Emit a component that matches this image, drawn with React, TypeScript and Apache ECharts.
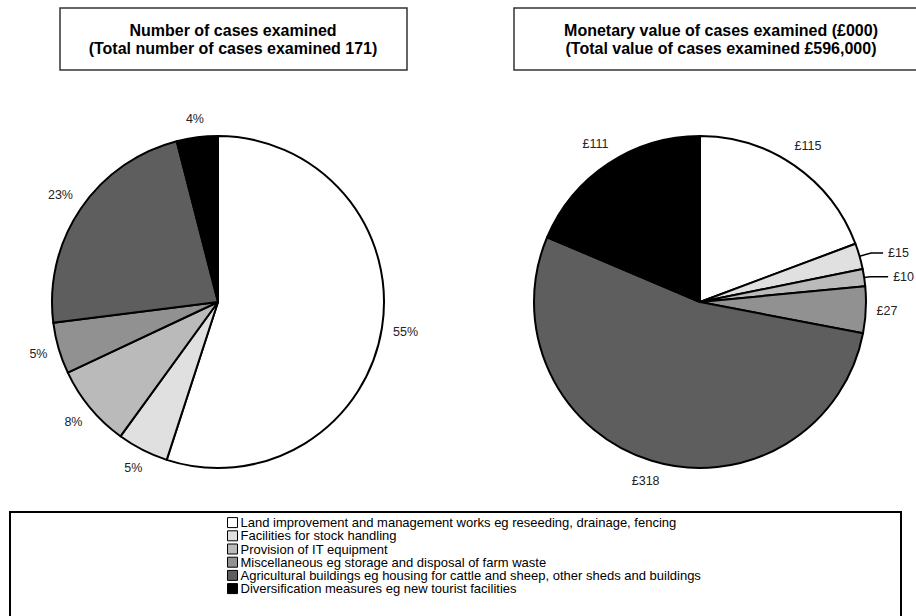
import React, { useEffect, useRef } from "react";
import * as echarts from "echarts";

const categories = [
  "Land improvement and management works eg reseeding, drainage, fencing",
  "Facilities for stock handling",
  "Provision of IT equipment",
  "Miscellaneous eg storage and disposal of farm waste",
  "Agricultural buildings eg housing for cattle and sheep, other sheds and buildings",
  "Diversification measures eg new tourist facilities",
];
const colors = ["#ffffff", "#e0e0e0", "#bababa", "#919191", "#5e5e5e", "#000000"];
const casePercents = [55, 5, 8, 5, 23, 4];
const valueThousands = [115, 15, 10, 27, 318, 111];
const leftTitle = ["Number of cases examined", "(Total number of cases examined 171)"];
const rightTitle = ["Monetary value of cases examined (£000)", "(Total value of cases examined £596,000)"];
const linedLabels = [1, 2];

const RADIUS = 166;
const LEFT_CENTER = [218, 302];
const RIGHT_CENTER = [700, 302];
const LABEL_GAP = 10.5;

function midAngles(vals: number[]) {
  const total = vals.reduce((a, b) => a + b, 0);
  let acc = 0;
  return vals.map((v) => {
    const a = ((acc + v / 2) / total) * Math.PI * 2;
    acc += v;
    return a;
  });
}

export default function App() {
  const ref = useRef<HTMLDivElement>(null);
  useEffect(() => {
    if (!ref.current) return;
    const chart = echarts.init(ref.current, null, { renderer: "svg" });
    const labelFont = { fontFamily: "Liberation Sans, Arial, sans-serif", fontSize: 12.5, color: "#222" };
    const leftMids = midAngles(casePercents);
    const rightMids = midAngles(valueThousands);
    const leftData = casePercents.map((v, i) => ({
      name: categories[i],
      value: v,
      itemStyle: { color: colors[i] },
    }));
    const rightData = valueThousands.map((v, i) => ({
      name: categories[i],
      value: v,
      itemStyle: { color: colors[i] },
      labelLine: linedLabels.includes(i)
        ? {
            show: true,
            length: i === 1 ? 12 : 6,
            length2: i === 1 ? 12 : 18,
            lineStyle: { color: "#000", width: 1.5 },
          }
        : { show: false },
    }));
    const placeLabel = (mids: number[], center: number[], skip: number[]) => (params: any) => {
      if (skip.includes(params.dataIndex)) return {};
      const a = mids[params.dataIndex];
      const s = Math.sin(a);
      const c = Math.cos(a);
      const w = params.labelRect.width;
      const h = params.labelRect.height;
      const d = RADIUS + LABEL_GAP + (Math.abs(s) * w) / 2 + (Math.abs(c) * h) / 2;
      return { x: center[0] + s * d, y: center[1] - c * d, align: "center", verticalAlign: "middle" };
    };
    const titleText = (lines: string[], cx: number) => ({
      type: "text",
      x: cx,
      y: 21,
      style: {
        text: lines.join("\n"),
        textAlign: "center",
        textVerticalAlign: "top",
        font: "bold 16px 'Liberation Sans', Arial, sans-serif",
        lineHeight: 18,
        fill: "#000",
      },
    });
    chart.setOption({
      animation: false,
      backgroundColor: "#fff",
      legend: {
        orient: "vertical",
        left: 222,
        top: 511,
        itemWidth: 10,
        itemHeight: 10,
        itemGap: 0,
        selectedMode: false,
        icon: "rect",
        itemStyle: { borderColor: "#000", borderWidth: 1 },
        textStyle: {
          fontFamily: "Liberation Sans, Arial, sans-serif",
          fontSize: 13,
          lineHeight: 13.2,
          color: "#000",
          padding: [0, 0, 0, -2],
        },
        data: categories,
      },
      graphic: [
        { type: "rect", shape: { x: 60, y: 8, width: 347, height: 62 }, style: { fill: "#fff", stroke: "#333", lineWidth: 1.5 } },
        { type: "rect", shape: { x: 514, y: 8, width: 414, height: 62 }, style: { fill: "#fff", stroke: "#333", lineWidth: 1.5 } },
        { type: "rect", shape: { x: 10, y: 512, width: 891, height: 120 }, style: { fill: "none", stroke: "#000", lineWidth: 2 } },
        titleText(leftTitle, 233),
        titleText(rightTitle, 721),
      ],
      series: [
        {
          type: "pie",
          center: LEFT_CENTER,
          radius: RADIUS,
          startAngle: 90,
          clockwise: true,
          avoidLabelOverlap: false,
          bleedMargin: 0,
          data: leftData,
          itemStyle: { borderColor: "#000", borderWidth: 2 },
          label: { show: true, position: "outside", formatter: "{c}%", overflow: "none", ...labelFont },
          labelLine: { show: false, length: 12, length2: 0 },
          labelLayout: placeLabel(leftMids, LEFT_CENTER, []),
          emphasis: { disabled: true },
        },
        {
          type: "pie",
          center: RIGHT_CENTER,
          radius: RADIUS,
          startAngle: 90,
          clockwise: true,
          avoidLabelOverlap: false,
          bleedMargin: 0,
          data: rightData,
          itemStyle: { borderColor: "#000", borderWidth: 2 },
          label: { show: true, position: "outside", formatter: "£{c}", overflow: "none", ...labelFont },
          labelLine: { show: false, length: 12, length2: 0 },
          labelLayout: placeLabel(rightMids, RIGHT_CENTER, linedLabels),
          emphasis: { disabled: true },
        },
      ],
    });
    return () => chart.dispose();
  }, []);
  return <div ref={ref} style={{ position: "absolute", left: 0, top: 0, width: 916, height: 616 }} />;
}
